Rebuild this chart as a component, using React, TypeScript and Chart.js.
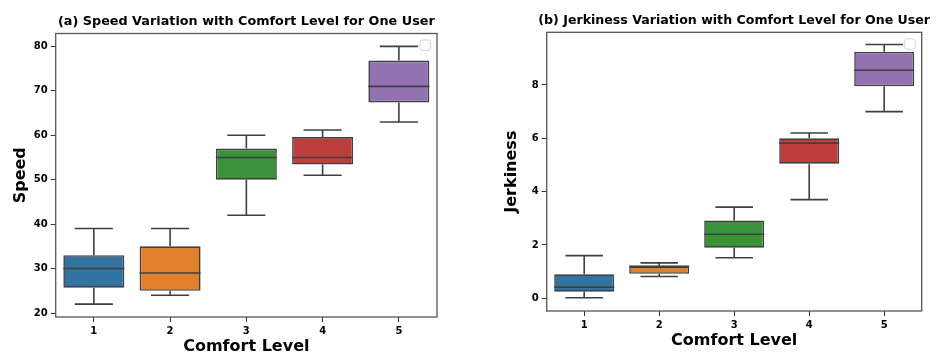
import React, { useEffect, useRef } from "react";
import { Chart, registerables } from "chart.js";

Chart.register(...registerables);

const comfortLevels = ["1", "2", "3", "4", "5"];
const boxColors = ["#3274a1", "#e1812c", "#3a923a", "#c03d3e", "#9372b2"];

const speedMin = [22, 24, 42, 51, 63];
const speedQ1 = [25.7, 25, 50, 53.4, 67.4];
const speedMedian = [30, 29, 55, 55, 71];
const speedQ3 = [33, 35, 57, 59.6, 76.8];
const speedMax = [39, 39, 60, 61.2, 80];
const speedTicks = [20, 30, 40, 50, 60, 70, 80];

const jerkMin = [0.02, 0.82, 1.52, 3.7, 7.0];
const jerkQ1 = [0.25, 0.92, 1.9, 5.05, 7.95];
const jerkMedian = [0.42, 1.2, 2.4, 5.82, 8.55];
const jerkQ3 = [0.9, 1.2, 2.92, 6.0, 9.25];
const jerkMax = [1.6, 1.33, 3.42, 6.2, 9.52];
const jerkTicks = [0, 2, 4, 6, 8];

const FONT = "'DejaVu Sans', sans-serif";
const LINE = "#3f3f3f";

type Props = {
  title: string;
  titleSize: number;
  yLabel: string;
  mins: number[];
  q1: number[];
  med: number[];
  q3: number[];
  maxs: number[];
  ticks: number[];
  yMin: number;
  yMax: number;
  yAxisWidth: number;
  xAxisHeight: number;
  padTop: number;
  padRight: number;
};

function BoxChart(p: Props) {
  const ref = useRef<HTMLCanvasElement | null>(null);
  useEffect(() => {
    if (!ref.current) return;
    const decor = {
      id: "boxDecor",
      afterDatasetsDraw(chart: any) {
        const ctx = chart.ctx;
        const xs = chart.scales.x;
        const ys = chart.scales.y;
        const step = xs.getPixelForValue(1) - xs.getPixelForValue(0);
        const boxW = step * 0.8;
        const capW = step * 0.5;
        ctx.save();
        ctx.strokeStyle = LINE;
        ctx.lineWidth = 1.6;
        for (let i = 0; i < comfortLevels.length; i++) {
          const cx = xs.getPixelForValue(i);
          const yMinP = ys.getPixelForValue(p.mins[i]);
          const yMaxP = ys.getPixelForValue(p.maxs[i]);
          const yQ1 = ys.getPixelForValue(p.q1[i]);
          const yQ3 = ys.getPixelForValue(p.q3[i]);
          const yMed = ys.getPixelForValue(p.med[i]);
          ctx.beginPath();
          ctx.moveTo(cx, yQ3);
          ctx.lineTo(cx, yMaxP);
          ctx.moveTo(cx - capW / 2, yMaxP);
          ctx.lineTo(cx + capW / 2, yMaxP);
          ctx.moveTo(cx, yQ1);
          ctx.lineTo(cx, yMinP);
          ctx.moveTo(cx - capW / 2, yMinP);
          ctx.lineTo(cx + capW / 2, yMinP);
          ctx.moveTo(cx - boxW / 2, yMed);
          ctx.lineTo(cx + boxW / 2, yMed);
          ctx.stroke();
        }
        ctx.restore();
      },
      afterDraw(chart: any) {
        const ctx = chart.ctx;
        const a = chart.chartArea;
        ctx.save();
        ctx.strokeStyle = "#555";
        ctx.lineWidth = 1.3;
        ctx.strokeRect(a.left, a.top, a.right - a.left, a.bottom - a.top);
        // empty legend box
        ctx.strokeStyle = "#d4d4d4";
        ctx.lineWidth = 1;
        ctx.fillStyle = "#fff";
        ctx.beginPath();
        (ctx as any).roundRect(a.right - 17, a.top + 6.5, 10.5, 10.5, 2.5);
        ctx.fill();
        ctx.stroke();
        ctx.fillStyle = "#000";
        ctx.textAlign = "center";
        ctx.textBaseline = "middle";
        const cx = (a.left + a.right) / 2;
        ctx.font = `bold ${p.titleSize}px ${FONT}`;
        ctx.fillText(p.title, cx, a.top - 11.5);
        ctx.font = `bold 16px ${FONT}`;
        ctx.fillText("Comfort Level", cx, a.bottom + 30);
        ctx.save();
        ctx.translate(a.left - 35, (a.top + a.bottom) / 2);
        ctx.rotate(-Math.PI / 2);
        ctx.fillText(p.yLabel, 0, 0);
        ctx.restore();
        ctx.restore();
      },
    };
    const chart = new Chart(ref.current, {
      type: "bar",
      data: {
        labels: comfortLevels,
        datasets: [
          {
            data: p.q1.map((v, i) => [v, p.q3[i]]) as any,
            backgroundColor: boxColors,
            borderColor: LINE,
            borderWidth: 1.6,
            borderSkipped: false,
            barPercentage: 0.8,
            categoryPercentage: 1,
          },
        ],
      },
      options: {
        animation: false,
        responsive: false,
        devicePixelRatio: 1,
        layout: { padding: { top: p.padTop, right: p.padRight, left: 0, bottom: 0 } },
        plugins: { legend: { display: false }, tooltip: { enabled: false }, title: { display: false } },
        scales: {
          x: {
            offset: true,
            grid: { display: true, drawOnChartArea: false, drawTicks: true, tickLength: 5, tickColor: "#333", offset: false },
            border: { display: false },
            ticks: { color: "#000", font: { family: FONT, weight: "bold", size: 10 }, padding: 3, maxRotation: 0 },
            afterFit: (s: any) => {
              s.height = p.xAxisHeight;
            },
          },
          y: {
            min: p.yMin,
            max: p.yMax,
            grid: { display: true, drawOnChartArea: false, drawTicks: true, tickLength: 5, tickColor: "#333" },
            border: { display: false },
            ticks: { color: "#000", font: { family: FONT, weight: "bold", size: 10 }, padding: 3 },
            afterBuildTicks: (s: any) => {
              s.ticks = p.ticks.map((v) => ({ value: v }));
            },
            afterFit: (s: any) => {
              s.width = p.yAxisWidth;
            },
          },
        },
      } as any,
      plugins: [decor],
    });
    return () => chart.destroy();
  }, []);
  return <canvas ref={ref} width={469} height={361} style={{ display: "block", width: 469, height: 361 }} />;
}

export default function App() {
  return (
    <div style={{ position: "fixed", left: 0, top: 0, width: 938, height: 361, display: "flex", background: "#fff" }}>
      <BoxChart
        title="(a) Speed Variation with Comfort Level for One User"
        titleSize={12.8}
        yLabel="Speed"
        mins={speedMin}
        q1={speedQ1}
        med={speedMedian}
        q3={speedQ3}
        maxs={speedMax}
        ticks={speedTicks}
        yMin={19.1}
        yMax={82.9}
        yAxisWidth={55.7}
        xAxisHeight={44}
        padTop={33.5}
        padRight={32}
      />
      <BoxChart
        title="(b) Jerkiness Variation with Comfort Level for One User"
        titleSize={12.6}
        yLabel="Jerkiness"
        mins={jerkMin}
        q1={jerkQ1}
        med={jerkMedian}
        q3={jerkQ3}
        maxs={jerkMax}
        ticks={jerkTicks}
        yMin={-0.475}
        yMax={9.975}
        yAxisWidth={77.7}
        xAxisHeight={50}
        padTop={32.3}
        padRight={16.3}
      />
    </div>
  );
}
